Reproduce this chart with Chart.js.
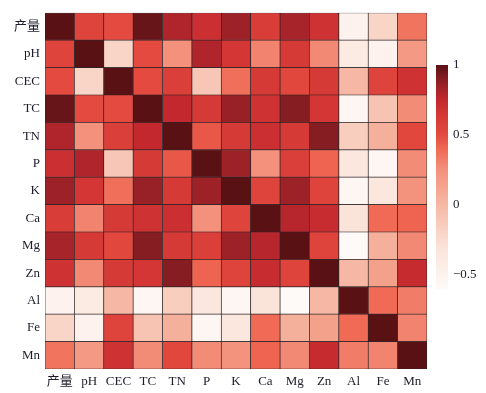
<!DOCTYPE html>
<html>
<head>
<meta charset="utf-8">
<script src="https://cdn.jsdelivr.net/npm/chart.js@4.4.1/dist/chart.umd.min.js"></script>
<style>
  html, body { margin: 0; padding: 0; background: #fff; }
  #wrap { position: relative; width: 486px; height: 393px; }
  #heatBox { position: absolute; left: 0; top: 0; width: 432px; height: 393px; }
  #barBox { position: absolute; left: 430px; top: 0; width: 56px; height: 393px; }
</style>
</head>
<body>
<div id="wrap">
  <div id="heatBox"><canvas id="heat"></canvas></div>
  <div id="barBox"><canvas id="cbar"></canvas></div>
</div>
<script>
// variable names (rows top to bottom, columns left to right)
const labels = ["产量", "pH", "CEC", "TC", "TN", "P", "K", "Ca", "Mg", "Zn", "Al", "Fe", "Mn"];

// correlation matrix, one row per variable
const corr = [
  [1.00, 0.55, 0.50, 0.97, 0.80, 0.70, 0.85, 0.60, 0.82, 0.68, -0.50, -0.20, 0.36],
  [0.55, 1.00, -0.20, 0.50, 0.25, 0.80, 0.65, 0.30, 0.62, 0.28, -0.40, -0.50, 0.20],
  [0.50, -0.20, 1.00, 0.50, 0.58, -0.10, 0.38, 0.62, 0.52, 0.62, 0.00, 0.55, 0.68],
  [0.97, 0.50, 0.50, 1.00, 0.75, 0.62, 0.86, 0.68, 0.90, 0.65, -0.55, -0.08, 0.27],
  [0.80, 0.25, 0.58, 0.75, 1.00, 0.46, 0.62, 0.70, 0.62, 0.90, -0.15, 0.05, 0.52],
  [0.70, 0.80, -0.10, 0.62, 0.46, 1.00, 0.85, 0.25, 0.58, 0.42, -0.35, -0.55, 0.27],
  [0.85, 0.65, 0.38, 0.86, 0.62, 0.85, 1.00, 0.55, 0.85, 0.55, -0.55, -0.35, 0.24],
  [0.60, 0.30, 0.62, 0.68, 0.70, 0.25, 0.55, 1.00, 0.78, 0.72, -0.30, 0.40, 0.42],
  [0.82, 0.62, 0.52, 0.90, 0.62, 0.58, 0.85, 0.78, 1.00, 0.55, -0.60, 0.05, 0.28],
  [0.68, 0.28, 0.62, 0.65, 0.90, 0.42, 0.55, 0.72, 0.55, 1.00, 0.00, 0.15, 0.73],
  [-0.50, -0.40, 0.00, -0.55, -0.15, -0.35, -0.55, -0.30, -0.60, 0.00, 1.00, 0.40, 0.33],
  [-0.20, -0.50, 0.55, -0.08, 0.05, -0.55, -0.35, 0.40, 0.05, 0.15, 0.40, 1.00, 0.30],
  [0.36, 0.20, 0.68, 0.27, 0.52, 0.27, 0.24, 0.42, 0.28, 0.73, 0.33, 0.30, 1.00]
];

// colour bar range and ticks
const cbMin = -0.6;
const cbMax = 1;
const cbTicks = [-0.5, 0, 0.5, 1];

// colour map stops (value -> colour)
const cmap = [
  [-0.6, [254, 250, 248]],
  [-0.3, [250, 227, 217]],
  [0.0, [246, 184, 164]],
  [0.25, [243, 145, 124]],
  [0.4, [240, 106, 85]],
  [0.5, [228, 74, 64]],
  [0.65, [211, 54, 52]],
  [0.75, [194, 40, 46]],
  [0.85, [156, 34, 40]],
  [0.93, [120, 26, 31]],
  [1.0, [90, 17, 20]]
];

function colorOf(v) {
  if (v <= cmap[0][0]) return 'rgb(' + cmap[0][1].join(',') + ')';
  for (let i = 1; i < cmap.length; i++) {
    if (v <= cmap[i][0]) {
      const a = cmap[i - 1], b = cmap[i];
      const t = (v - a[0]) / (b[0] - a[0]);
      const c = a[1].map((x, k) => Math.round(x + (b[1][k] - x) * t));
      return 'rgb(' + c.join(',') + ')';
    }
  }
  return 'rgb(' + cmap[cmap.length - 1][1].join(',') + ')';
}

const tickFont = { family: "'Liberation Serif', 'Noto Sans CJK SC', serif", size: 13 };
const tickColor = '#1c1c2a';

// one stacked dataset per row, bottom row first
const datasets = [];
for (let k = 0; k < labels.length; k++) {
  const r = labels.length - 1 - k;
  datasets.push({
    label: labels[r],
    data: labels.map(() => 1),
    backgroundColor: corr[r].map(v => colorOf(v)),
    borderColor: '#2e2426',
    borderWidth: 0.7,
    borderSkipped: false,
    barPercentage: 1,
    categoryPercentage: 1
  });
}

new Chart(document.getElementById('heat'), {
  type: 'bar',
  data: { labels: labels, datasets: datasets },
  options: {
    responsive: true,
    maintainAspectRatio: false,
    animation: false,
    layout: { padding: { top: 8, right: 5, left: 0, bottom: 0 } },
    plugins: { legend: { display: false }, tooltip: { enabled: false } },
    scales: {
      x: {
        stacked: true,
        grid: { display: false, drawTicks: false },
        border: { display: false },
        ticks: { font: tickFont, color: tickColor, padding: 5, maxRotation: 0 },
        afterFit: s => { s.height = 24; }
      },
      y: {
        stacked: true,
        display: false,
        min: 0,
        max: labels.length
      },
      yl: {
        type: 'category',
        labels: labels,
        position: 'left',
        offset: true,
        grid: { display: false, drawTicks: false },
        border: { display: false },
        ticks: { font: tickFont, color: tickColor, padding: 5 },
        afterFit: s => { s.width = 45; }
      }
    }
  }
});

// colour bar: one floating bar over the full range, filled with the colour map
new Chart(document.getElementById('cbar'), {
  type: 'bar',
  data: {
    labels: [''],
    datasets: [{
      data: [[cbMin, cbMax]],
      backgroundColor: ctx => {
        const area = ctx.chart.chartArea;
        if (!area) return '#fff';
        const sy = ctx.chart.scales.y;
        const g = ctx.chart.ctx.createLinearGradient(0, sy.getPixelForValue(cbMin), 0, sy.getPixelForValue(cbMax));
        const n = 40;
        for (let i = 0; i <= n; i++) {
          const v = cbMin + (cbMax - cbMin) * i / n;
          g.addColorStop(i / n, colorOf(v));
        }
        return g;
      },
      borderWidth: 0,
      barPercentage: 1,
      categoryPercentage: 1
    }]
  },
  options: {
    responsive: true,
    maintainAspectRatio: false,
    animation: false,
    layout: { padding: { top: 65, bottom: 104, left: 6, right: 0 } },
    plugins: { legend: { display: false }, tooltip: { enabled: false } },
    scales: {
      x: { display: false },
      y: {
        position: 'right',
        min: cbMin,
        max: cbMax,
        grid: { display: false, drawTicks: false },
        border: { display: false },
        afterBuildTicks: s => { s.ticks = cbTicks.map(v => ({ value: v })); },
        ticks: {
          font: tickFont,
          color: tickColor,
          padding: 5,
          callback: v => (v < 0 ? '\u2212' + Math.abs(v) : String(v))
        },
        afterFit: s => { s.width = 38; }
      }
    }
  }
});
</script>
</body>
</html>
